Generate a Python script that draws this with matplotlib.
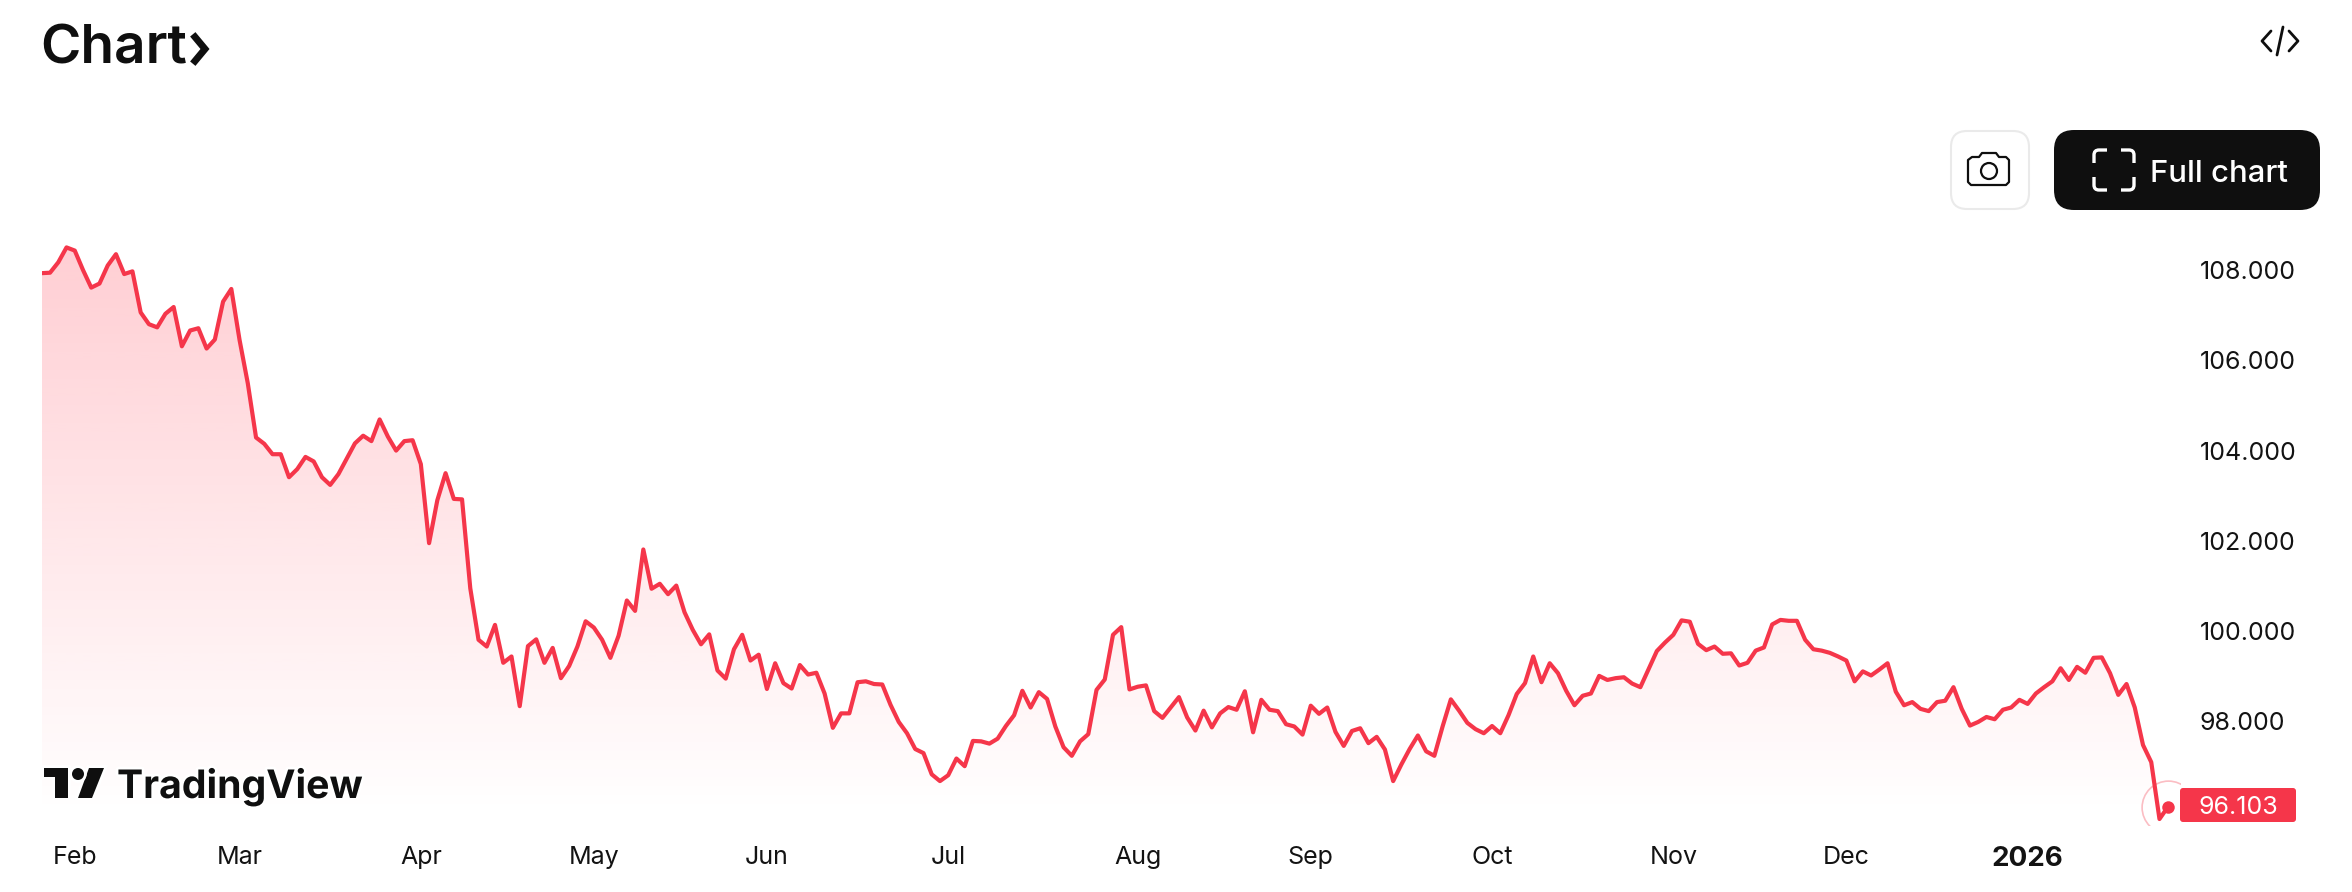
import numpy as np
from matplotlib import pyplot as plt
from matplotlib import patheffects as pe
from matplotlib.colors import to_rgb
from matplotlib.patches import Polygon, FancyBboxPatch, Circle
from matplotlib.path import Path
from matplotlib.patches import PathPatch

plt.rcParams['font.family'] = ['Inter', 'DejaVu Sans']

# closing values, one per trading day
values = [
    107.93, 107.94, 108.17, 108.50, 108.43, 108.00, 107.61, 107.70, 108.10, 108.35,
    107.91, 107.97, 107.06, 106.80, 106.73, 107.03, 107.18, 106.31, 106.66, 106.71,
    106.26, 106.46, 107.30, 107.58, 106.45, 105.49, 104.29, 104.15, 103.92, 103.92,
    103.41, 103.59, 103.86, 103.76, 103.41, 103.24, 103.48, 103.82, 104.16, 104.33,
    104.21, 104.69, 104.31, 104.00, 104.21, 104.23, 103.70, 101.95, 102.90, 103.50,
    102.93, 102.92, 100.95, 99.81, 99.66, 100.14, 99.30, 99.44, 98.34, 99.67,
    99.82, 99.30, 99.63, 98.96, 99.23, 99.66, 100.22, 100.08, 99.81, 99.41,
    99.90, 100.68, 100.45, 101.81, 100.94, 101.05, 100.82, 101.01, 100.42, 100.03,
    99.71, 99.93, 99.13, 98.95, 99.60, 99.92, 99.35, 99.48, 98.72, 99.29,
    98.85, 98.73, 99.25, 99.04, 99.08, 98.62, 97.86, 98.18, 98.18, 98.87,
    98.89, 98.83, 98.82, 98.37, 97.99, 97.74, 97.39, 97.30, 96.83, 96.68,
    96.81, 97.18, 97.01, 97.57, 97.56, 97.51, 97.62, 97.90, 98.14, 98.68,
    98.31, 98.65, 98.50, 97.89, 97.43, 97.24, 97.56, 97.72, 98.70, 98.93,
    99.92, 100.09, 98.71, 98.77, 98.80, 98.23, 98.08, 98.31, 98.54, 98.09,
    97.80, 98.24, 97.87, 98.18, 98.32, 98.26, 98.67, 97.76, 98.48, 98.26,
    98.23, 97.94, 97.89, 97.71, 98.35, 98.17, 98.31, 97.77, 97.46, 97.79,
    97.85, 97.52, 97.66, 97.38, 96.68, 97.05, 97.39, 97.69, 97.34, 97.24,
    97.89, 98.49, 98.24, 97.97, 97.83, 97.74, 97.90, 97.74, 98.14, 98.61,
    98.85, 99.44, 98.87, 99.29, 99.07, 98.68, 98.36, 98.57, 98.62, 99.01,
    98.92, 98.96, 98.98, 98.84, 98.76, 99.16, 99.56, 99.75, 99.92, 100.24,
    100.21, 99.72, 99.58, 99.66, 99.50, 99.51, 99.24, 99.30, 99.57, 99.64,
    100.15, 100.25, 100.23, 100.23, 99.81, 99.60, 99.57, 99.52, 99.44, 99.35,
    98.89, 99.11, 99.02, 99.15, 99.29, 98.66, 98.36, 98.43, 98.28, 98.23,
    98.43, 98.46, 98.76, 98.28, 97.91, 97.99, 98.10, 98.05, 98.26, 98.31,
    98.48, 98.39, 98.62, 98.76, 98.89, 99.18, 98.92, 99.21, 99.08, 99.41,
    99.42, 99.07, 98.59, 98.83, 98.31, 97.48, 97.10, 95.84, 96.103,
]
price_ticks = [108, 106, 104, 102, 100, 98]
month_pos = [4, 24, 46, 67, 88, 110, 133, 154, 176, 198, 219, 241]
month_labels = ['Feb', 'Mar', 'Apr', 'May', 'Jun', 'Jul', 'Aug', 'Sep', 'Oct', 'Nov', 'Dec', '2026']
last_label = '96.103'

W, H = 2352, 892
red = '#F5364A'
dark = '#0F0F0F'

fig = plt.figure(figsize=(W / 100, H / 100), dpi=100, facecolor='white')

# pane in pixels
left, right, top, bottom = 41.8, 2180, 230, 825
ax = fig.add_axes([left / W, 1 - bottom / H, (right - left) / W, (bottom - top) / H])
x = np.arange(len(values))
ax.set_xlim(0, (right - left) / 8.24)
ax.set_ylim(108 - (bottom - 270) / 45.15, 108 + (270 - top) / 45.15)
for s in ax.spines.values():
    s.set_visible(False)

# area gradient, clipped to the series
grad = np.zeros((256, 1, 4))
grad[..., :3] = to_rgb('#FF3C50')
grad[..., 3] = np.linspace(0.25, 0, 256)[:, None]
y0, y1 = ax.get_ylim()
img = ax.imshow(grad, extent=(0, len(values) - 1, y0 + 0.25, max(values)), aspect='auto', zorder=1, interpolation='bilinear')
ax.set_xlim(0, (right - left) / 8.24)
ax.set_ylim(y0, y1)
clip = Polygon(list(zip(x, values)) + [(x[-1], y0), (0, y0)], closed=True, transform=ax.transData, fc='none', ec='none')
ax.add_patch(clip)
img.set_clip_path(clip)

ax.plot(x, values, color=red, lw=3.0, solid_joinstyle='round', zorder=3)
ax.plot(x[-1], values[-1], 'o', ms=9, color=red, mew=0, zorder=4, clip_on=False)
ax.plot(x[-1], values[-1], 'o', ms=38, mfc='none', mec='#FBBDC3', mew=1.2, zorder=2)

ax.yaxis.tick_right()
ax.set_yticks(price_ticks)
ax.set_yticklabels(['%.3f' % p for p in price_ticks], fontsize=18, color='#131313')
ax.tick_params(axis='y', length=0, pad=14)
ax.set_xticks(month_pos)
ax.set_xticklabels(month_labels, fontsize=18, color='#131313')
ax.tick_params(axis='x', length=0, pad=15)
ax.get_xticklabels()[-1].set_fontweight('bold')
ax.get_xticklabels()[-1].set_fontsize(20)

# page furniture on top, in pixel coordinates
ui = fig.add_axes([0, 0, 1, 1], zorder=5)
ui.set_xlim(0, W)
ui.set_ylim(H, 0)
ui.axis('off')
ui.patch.set_alpha(0)

ui.text(40, 63, 'Chart', fontsize=39.5, fontweight='semibold', color=dark, va='baseline', ha='left')
ui.plot([195, 205, 195], [37, 49, 61], color=dark, lw=5, solid_joinstyle='miter')

# code icon
ui.plot([2271, 2262, 2271], [31, 41, 51], color=dark, lw=2, solid_capstyle='round', solid_joinstyle='round')
ui.plot([2283, 2277], [27, 55], color=dark, lw=2, solid_capstyle='round')
ui.plot([2289, 2298, 2289], [31, 41, 51], color=dark, lw=2, solid_capstyle='round', solid_joinstyle='round')

# camera button
ui.add_patch(FancyBboxPatch((1951 + 16, 131 + 16), 78 - 32, 78 - 32, boxstyle='round,pad=16,rounding_size=16', fc='white', ec='#EAEAEA', lw=1.5))
cam = [(1972, 157), (1979, 157), (1982, 153), (1996, 153), (1999, 157), (2006, 157), (2009, 160), (2009, 182), (2006, 185), (1971, 185), (1968, 182), (1968, 160), (1972, 157)]
ui.add_patch(Polygon(cam, closed=True, fc='none', ec=dark, lw=1.6, joinstyle='round'))
ui.add_patch(Circle((1989, 171), 8, fc='none', ec=dark, lw=1.6))

# full chart button
ui.add_patch(FancyBboxPatch((2054 + 20, 130 + 20), 266 - 40, 80 - 40, boxstyle='round,pad=20,rounding_size=20', fc=dark, ec='none'))
for cx, cy, sx, sy in [(2094, 150, 1, 1), (2134, 150, -1, 1), (2094, 190, 1, -1), (2134, 190, -1, -1)]:
    verts = [(cx, cy + sy * 13), (cx, cy + sy * 5), (cx, cy), (cx + sx * 5, cy), (cx + sx * 13, cy)]
    codes = [Path.MOVETO, Path.LINETO, Path.CURVE3, Path.CURVE3, Path.LINETO]
    ui.add_patch(PathPatch(Path(verts, codes), fc='none', ec='white', lw=2.4, capstyle='butt'))
ui.text(2150, 171, 'Full chart', fontsize=22.4, fontweight='medium', color='white', va='center_baseline', ha='left')

# logo
halo = [pe.withStroke(linewidth=4, foreground='white')]
logo_t = [(44, 768), (68, 768), (68, 798), (55, 798), (55, 777), (44, 777)]
logo_s = [(89, 768), (104, 768), (92, 798), (78, 798)]
for pts in (logo_t, logo_s):
    ui.add_patch(Polygon(pts, closed=True, fc=dark, ec='none', path_effects=halo))
ui.add_patch(Circle((78, 774), 6, fc=dark, ec='none', path_effects=halo))
ui.text(117, 798, 'TradingView', fontsize=28.2, fontweight='bold', color=dark, va='baseline', ha='left', path_effects=halo)

# last price tag
ui.add_patch(FancyBboxPatch((2182, 790), 112, 30, boxstyle='round,pad=2,rounding_size=3', fc=red, ec='none'))
ui.text(2238, 807, last_label, fontsize=18, color='white', ha='center', va='center')

fig.savefig('out.png', dpi=100)
